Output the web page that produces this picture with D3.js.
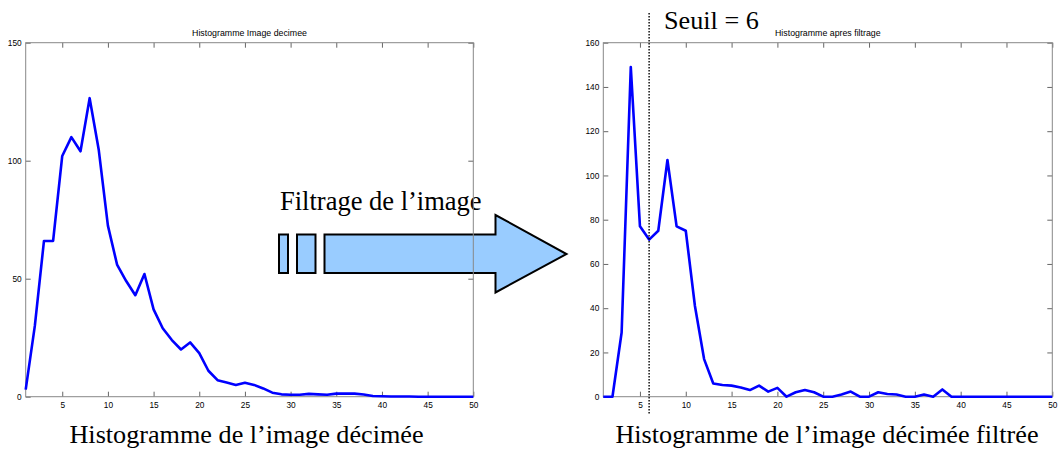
<!DOCTYPE html>
<html><head><meta charset="utf-8">
<script src="https://cdn.jsdelivr.net/npm/d3@7"></script>
<style>body{margin:0;background:#fff}svg{display:block}</style>
</head><body>
<svg id="c" width="1061" height="459"></svg>
<script>
// ---- data ----
const bins = d3.range(1, 51);
const histDecimee = [3,30,66,66,102,110,104,126.5,104.5,72.5,
  56,49,43,52,37,29,24,20,23,18.5,
  11,7,6,5,5.9,5,3.5,1.7,1,0.8,
  0.8,1.2,1,0.8,1.3,1.3,1.3,0.9,0.3,0.2,
  0.1,0.1,0.1,0,0,0,0,0,0,0];
const histFiltree = [0,0,29,149,77,71,75,107,77,75,
  41,17,6,5.3,5,4.2,3,5,2.3,4,
  0,2,3,2,0,0,1,2.3,0,0,
  2,1.2,1,0,0,1,0,3.3,0,0,
  0,0,0,0,0,0,0,0,0,0];
const xTicks = [5,10,15,20,25,30,35,40,45,50];
const yTicksLeft = [0,50,100,150];
const yTicksRight = [0,20,40,60,80,100,120,140,160];
const seuil = 6;
const titleLeft = "Histogramme Image decimee";
const titleRight = "Histogramme apres filtrage";
const captionLeft = "Histogramme de l\u2019image d\u00e9cim\u00e9e";
const captionRight = "Histogramme de l\u2019image d\u00e9cim\u00e9e filtr\u00e9e";
const arrowLabel = "Filtrage de l\u2019image";
const seuilLabel = "Seuil = " + seuil;

const svg = d3.select("#c");
const serif = "'Liberation Serif','Times New Roman',serif";
const sans = "'Liberation Sans',Helvetica,Arial,sans-serif";

// ---- arrow (decoration, drawn first) ----
const ag = svg.append("g");
const aTop = 234.5, aBot = 273;
ag.append("rect").attr("x",279).attr("y",aTop).attr("width",9).attr("height",aBot-aTop)
  .attr("fill","#99ccff").attr("stroke","#000").attr("stroke-width",2);
ag.append("rect").attr("x",297).attr("y",aTop).attr("width",18.5).attr("height",aBot-aTop)
  .attr("fill","#99ccff").attr("stroke","#000").attr("stroke-width",2);
ag.append("path")
  .attr("d",`M324.5,${aTop}L495.5,${aTop}L495.5,215L566.5,254L495.5,292.5L495.5,${aBot}L324.5,${aBot}Z`)
  .attr("fill","#99ccff").attr("stroke","#000").attr("stroke-width",2).attr("stroke-linejoin","miter");
svg.append("text").attr("x",280).attr("y",210).attr("font-family",serif).attr("font-size",26.5)
  .attr("fill","#000").text(arrowLabel);

// ---- plot helper ----
function plot(opts){
  const {x0,x1,y0,y1,yMax,yTicks,values,title} = opts;
  const x = d3.scaleLinear().domain([1,50]).range([x0,x1]);
  const y = d3.scaleLinear().domain([0,yMax]).range([y1,y0]);
  const g = svg.append("g");
  const tick = 5;
  const styleAxis = sel => {
    sel.select(".domain").remove();
    sel.selectAll(".tick line").attr("stroke","#666");
    sel.selectAll(".tick text").attr("font-family",sans).attr("font-size",8.3).attr("fill","#000");
  };
  g.append("g").attr("transform",`translate(0,${y1})`)
    .call(d3.axisBottom(x).tickValues(xTicks).tickSizeInner(-tick).tickSizeOuter(0).tickPadding(5))
    .call(styleAxis);
  g.append("g").attr("transform",`translate(0,${y0})`)
    .call(d3.axisTop(x).tickValues(xTicks).tickSizeInner(-tick).tickSizeOuter(0).tickFormat(""))
    .call(styleAxis);
  g.append("g").attr("transform",`translate(${x0},0)`)
    .call(d3.axisLeft(y).tickValues(yTicks).tickSizeInner(-tick).tickSizeOuter(0).tickPadding(4))
    .call(styleAxis);
  g.append("g").attr("transform",`translate(${x1},0)`)
    .call(d3.axisRight(y).tickValues(yTicks).tickSizeInner(-tick).tickSizeOuter(0).tickFormat(""))
    .call(styleAxis);
  g.append("rect").attr("x",x0).attr("y",y0).attr("width",x1-x0).attr("height",y1-y0)
    .attr("fill","none").attr("stroke","#888").attr("stroke-width",1);
  const line = d3.line().x((d,i)=>x(bins[i])).y(d=>y(d));
  g.append("path").datum(values).attr("d",line).attr("fill","none")
    .attr("stroke","#0000ff").attr("stroke-width",2.6).attr("stroke-linejoin","round");
  g.append("text").attr("x",(x0+x1)/2).attr("y",y0-7).attr("text-anchor","middle")
    .attr("font-family",sans).attr("font-size",8.8).attr("fill","#000").text(title);
  return {x,y,g};
}

plot({x0:25.7,x1:473.3,y0:42.7,y1:396.7,yMax:150,yTicks:yTicksLeft,values:histDecimee,title:titleLeft});
const R = plot({x0:603.3,x1:1052.3,y0:42.7,y1:396.7,yMax:160,yTicks:yTicksRight,values:histFiltree,title:titleRight});

// threshold
svg.append("line").attr("x1",R.x(seuil)).attr("x2",R.x(seuil)).attr("y1",13).attr("y2",414)
  .attr("stroke","#000").attr("stroke-width",1.4).attr("stroke-dasharray","1.4,1.6");
svg.append("text").attr("x",664).attr("y",29).attr("font-family",serif).attr("font-size",26.2)
  .attr("fill","#000").text(seuilLabel);

// captions
svg.append("text").attr("x",246.5).attr("y",443).attr("text-anchor","middle").attr("font-family",serif)
  .attr("font-size",26.2).attr("fill","#000").text(captionLeft);
svg.append("text").attr("x",827).attr("y",443).attr("text-anchor","middle").attr("font-family",serif)
  .attr("font-size",26.2).attr("fill","#000").text(captionRight);
</script>
</body></html>
